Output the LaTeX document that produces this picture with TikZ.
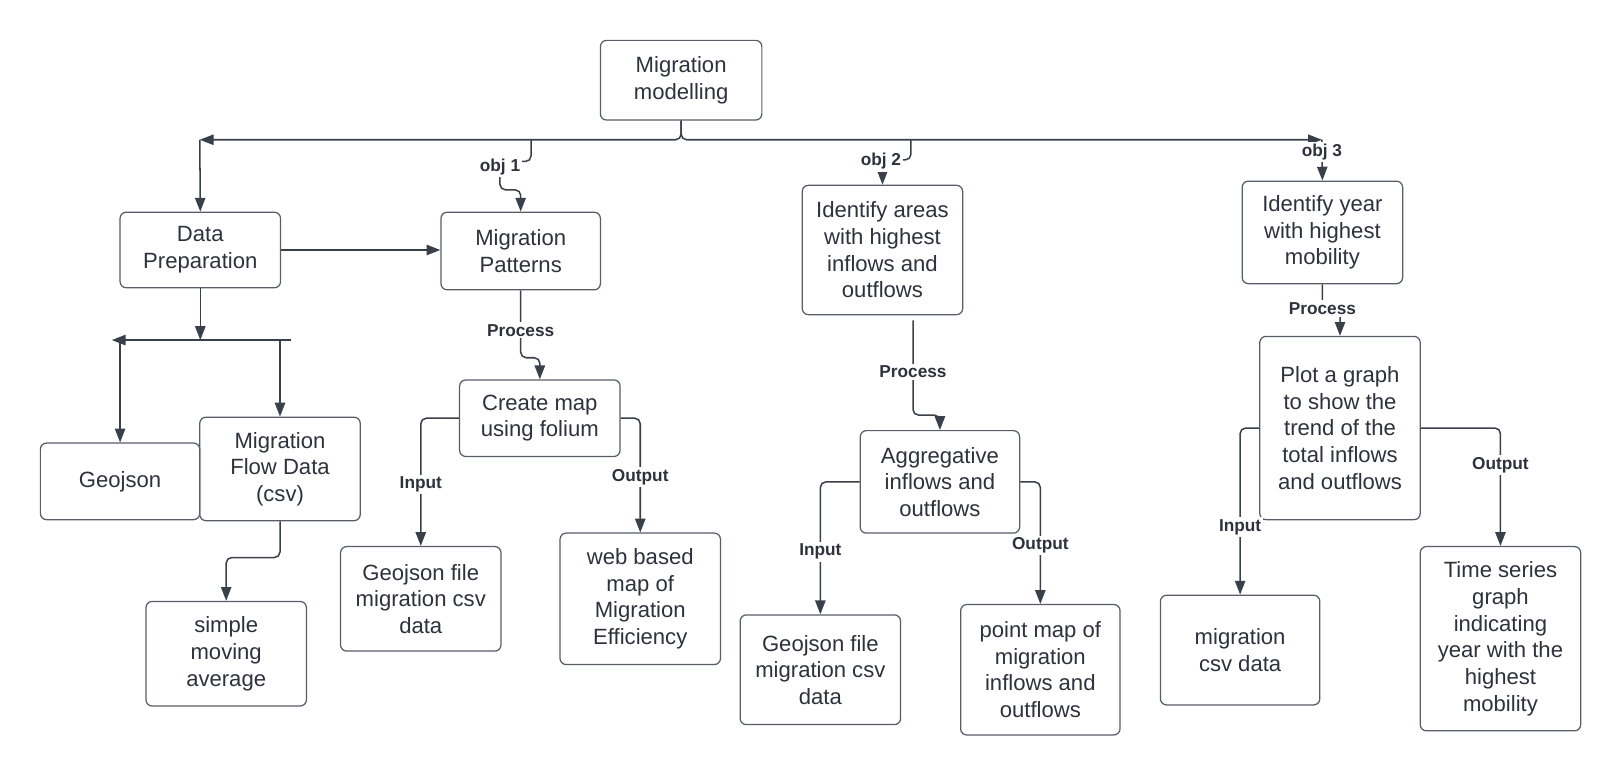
\documentclass[tikz,border=0pt]{standalone}
\usepackage{fontspec}
\setmainfont{Liberation Sans}
\usetikzlibrary{arrows.meta,calc}
\definecolor{txt}{RGB}{45,50,60}
\definecolor{lnc}{RGB}{58,64,74}
\definecolor{brd}{RGB}{88,94,104}
\tikzset{
  box/.style={draw=brd, line width=0.9pt, rounded corners=4.5pt, align=center, text=txt,
    inner sep=0pt, font=\fontsize{16}{19.3}\selectfont},
  bsz/.style 2 args={minimum width=#1*0.75pt, minimum height=#2*0.75pt},
  conn/.style={draw=lnc, line width=1.1pt, rounded corners=4pt},
  arr/.style={conn, -{Triangle[length=10pt,width=7.5pt]}},
  lbl/.style={fill=white, text=txt, inner sep=1.5pt, font=\fontsize{12.5}{14}\selectfont\bfseries},
}
\begin{document}
\begin{tikzpicture}[x=0.75pt,y=-0.75pt]
\useasboundingbox[fill=white] (0,0) rectangle (1565,750);

% boxes
\node[box,bsz={156}{77}] (mm) at (658,77.5) {Migration\\modelling};
\node[box,bsz={155}{73}] (dp) at (193.5,241.5) {Data\\Preparation};
\node[box,bsz={154}{75}] (mp) at (503,242.5) {Migration\\Patterns};
\node[box,bsz={155}{125}] (ia) at (852.5,241.5) {Identify areas\\with highest\\inflows and\\outflows};
\node[box,bsz={155}{99}] (iy) at (1277.5,224.5) {Identify year\\with highest\\mobility};
\node[box,bsz={154}{74}] (geo) at (116,465) {Geojson};
\node[box,bsz={155}{100}] (mfd) at (270.5,453) {Migration\\Flow Data\\(csv)};
\node[box,bsz={155}{101}] (sma) at (218.5,631.5) {simple\\moving\\average};
\node[box,bsz={155}{74}] (cm) at (521.5,404) {Create map\\using folium};
\node[box,bsz={155}{101}] (gf1) at (406.5,578.5) {Geojson file\\migration csv\\data};
\node[box,bsz={155}{127}] (wb) at (618.5,578.5) {web based\\map of\\Migration\\Efficiency};
\node[box,bsz={154}{99}] (ag) at (908,465.5) {Aggregative\\inflows and\\outflows};
\node[box,bsz={155}{106}] (gf2) at (792.5,647) {Geojson file\\migration csv\\data};
\node[box,bsz={154}{126}] (pm) at (1005,647) {point map of\\migration\\inflows and\\outflows};
\node[box,bsz={155}{177}] (pg) at (1294.5,413.5) {Plot a graph\\to show the\\trend of the\\total inflows\\and outflows};
\node[box,bsz={154}{106}] (mc) at (1198,628) {migration\\csv data};
\node[box,bsz={155}{178}] (ts) at (1449.5,617) {Time series\\graph\\indicating\\year with the\\highest\\mobility};

% top distribution line
\coordinate (L) at (193,135);
\coordinate (R) at (1277,135);
\draw[arr] (mm.south) |- (L);
\draw[arr] (mm.south) |- (R);
\draw[arr] (L) -- (dp.north);

% obj 1
\coordinate (o1) at (513,135);
\draw[arr] (o1) |- (483,156) |- ($(mp.north)+(0,-21)$) -- (mp.north);
\node[lbl] (l1) at (483,161) {obj 1};

% obj 2
\coordinate (o2) at (880,135);
\draw[arr] (o2) |- ($(ia.north)+(0,-24)$) -- (ia.north);
\node[lbl] (l2) at (851,156) {obj 2};

% obj 3
\draw[arr] (R) -- (iy.north);
\node[lbl] (l3) at (1277,147) {obj 3};

% data preparation branch
\draw[arr] (dp.east) -- (dp.east -| mp.west);
\coordinate (T) at (193.5,328.5);
\coordinate (HL) at (108,328.5);
\coordinate (HR) at (281,328.5);
\draw[arr] (dp.south) -- (T);
\draw[arr] (HR) -- (HL);
\draw[arr] (116,328.5) -- (geo.north);
\draw[arr] (270.5,328.5) -- (mfd.north);
\draw[arr] (mfd.south) -- ++(0,35) -| (sma.north);

% migration patterns
\draw[arr] (mp.south) -- ++(0,65) -| (cm.north);
\node[lbl] (p1) at (503,319) {Process};
\draw[arr] (cm.west) -| (gf1.north);
\node[lbl] (i1) at (406.5,468) {Input};
\draw[arr] (cm.east) -| (wb.north);
\node[lbl] (u1) at (618.5,461) {Output};

% identify areas
\draw[arr] ($(ia.south)+(29.5,5)$) -- (882,401) -| (ag.north);
\node[lbl] (p2) at (882,359) {Process};
\draw[arr] (ag.west) -| (gf2.north);
\node[lbl] (i2) at (792.5,533) {Input};
\draw[arr] (ag.east) -| (pm.north);
\node[lbl] (u2) at (1005,527) {Output};

% identify year
\draw[arr] (iy.south) -- (1277.5,298) -| (pg.north);
\node[lbl] (p3) at (1277.5,298) {Process};
\draw[arr] (pg.west) -| (mc.north);
\node[lbl] (i3) at (1198,509) {Input};
\draw[arr] (pg.east) -| (ts.north);
\node[lbl] (u3) at (1449.5,449) {Output};
\end{tikzpicture}
\end{document}
